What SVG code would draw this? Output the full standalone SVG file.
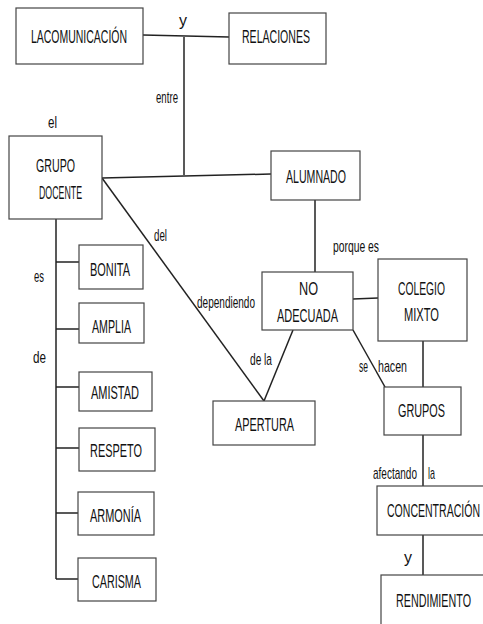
<svg xmlns="http://www.w3.org/2000/svg" width="483" height="624" viewBox="0 0 483 624">
<style>
rect{fill:#fff;stroke:#444;stroke-width:1.2}
text{font-family:"Liberation Sans",Arial,sans-serif;fill:#111}
.n{font-size:18px}
.l{font-size:17px}
#connectors line{stroke:#222;stroke-width:1.5}
</style>
<rect x="0" y="0" width="483" height="624" style="fill:#fff;stroke:none"/>
<g id="connectors">
<line x1="143" y1="35" x2="229" y2="37"/>
<line x1="184" y1="37" x2="184" y2="175"/>
<line x1="102" y1="178" x2="271" y2="174"/>
<line x1="102" y1="178" x2="264" y2="401"/>
<line x1="315" y1="200" x2="315" y2="272"/>
<line x1="56" y1="219" x2="56" y2="579"/>
<line x1="56" y1="262" x2="79" y2="262"/>
<line x1="56" y1="329" x2="79" y2="329"/>
<line x1="56" y1="387" x2="79" y2="387"/>
<line x1="56" y1="448" x2="79" y2="448"/>
<line x1="56" y1="513" x2="78" y2="513"/>
<line x1="56" y1="579" x2="78" y2="579"/>
<line x1="353" y1="299" x2="378" y2="298"/>
<line x1="293" y1="330" x2="264" y2="401"/>
<line x1="353" y1="330" x2="385" y2="387"/>
<line x1="423" y1="341" x2="423" y2="387"/>
<line x1="423" y1="435" x2="423" y2="486"/>
<line x1="423" y1="535" x2="423" y2="575"/>
<g class="labels">
<text class="l" x="179" y="26" textLength="8" lengthAdjust="spacingAndGlyphs">y</text>
<text class="l" x="156" y="103" textLength="22" lengthAdjust="spacingAndGlyphs">entre</text>
<text class="l" x="48" y="128" textLength="9" lengthAdjust="spacingAndGlyphs">el</text>
<text class="l" x="34" y="282" textLength="10" lengthAdjust="spacingAndGlyphs">es</text>
<text class="l" x="33" y="363" textLength="13" lengthAdjust="spacingAndGlyphs">de</text>
<text class="l" x="154" y="241" textLength="13" lengthAdjust="spacingAndGlyphs">del</text>
<text class="l" x="197" y="308" textLength="58" lengthAdjust="spacingAndGlyphs">dependiendo</text>
<text class="l" x="333" y="252" textLength="46" lengthAdjust="spacingAndGlyphs">porque es</text>
<text class="l" x="250" y="365" textLength="22" lengthAdjust="spacingAndGlyphs">de la</text>
<text class="l" x="359" y="372" textLength="9" lengthAdjust="spacingAndGlyphs">se</text>
<text class="l" x="378" y="372" textLength="29" lengthAdjust="spacingAndGlyphs">hacen</text>
<text class="l" x="373" y="479" textLength="44" lengthAdjust="spacingAndGlyphs">afectando</text>
<text class="l" x="428" y="479" textLength="7" lengthAdjust="spacingAndGlyphs">la</text>
<text class="l" x="404" y="563" textLength="8" lengthAdjust="spacingAndGlyphs">y</text>
</g>
</g>
<g id="n1"><rect x="16" y="8" width="127" height="56"/><text class="n" x="31" y="43" textLength="96" lengthAdjust="spacingAndGlyphs">LACOMUNICACIÓN</text></g>
<g id="n2"><rect x="229" y="13" width="97" height="51"/><text class="n" x="242" y="43" textLength="68" lengthAdjust="spacingAndGlyphs">RELACIONES</text></g>
<g id="n3"><rect x="9" y="136" width="93" height="83"/><text class="n" x="36" y="172" textLength="39" lengthAdjust="spacingAndGlyphs">GRUPO</text><text class="n" x="39" y="199" textLength="43" lengthAdjust="spacingAndGlyphs">DOCENTE</text></g>
<g id="n4"><rect x="271" y="151" width="89" height="49"/><text class="n" x="286" y="183" textLength="60" lengthAdjust="spacingAndGlyphs">ALUMNADO</text></g>
<g id="n5"><rect x="79" y="245" width="64" height="44"/><text class="n" x="90" y="276" textLength="40" lengthAdjust="spacingAndGlyphs">BONITA</text></g>
<g id="n6"><rect x="79" y="303" width="65" height="40"/><text class="n" x="92" y="333" textLength="39" lengthAdjust="spacingAndGlyphs">AMPLIA</text></g>
<g id="n7"><rect x="79" y="372" width="73" height="39"/><text class="n" x="91" y="399" textLength="48" lengthAdjust="spacingAndGlyphs">AMISTAD</text></g>
<g id="n8"><rect x="79" y="428" width="76" height="43"/><text class="n" x="90" y="457" textLength="52" lengthAdjust="spacingAndGlyphs">RESPETO</text></g>
<g id="n9"><rect x="78" y="492" width="76" height="43"/><text class="n" x="90" y="522" textLength="51" lengthAdjust="spacingAndGlyphs">ARMONÍA</text></g>
<g id="n10"><rect x="78" y="558" width="78" height="43"/><text class="n" x="92" y="588" textLength="49" lengthAdjust="spacingAndGlyphs">CARISMA</text></g>
<g id="n11"><rect x="262" y="272" width="91" height="58"/><text class="n" x="299" y="295" textLength="19" lengthAdjust="spacingAndGlyphs">NO</text><text class="n" x="277" y="322" textLength="61" lengthAdjust="spacingAndGlyphs">ADECUADA</text></g>
<g id="n12"><rect x="378" y="259" width="89" height="82"/><text class="n" x="398" y="295" textLength="47" lengthAdjust="spacingAndGlyphs">COLEGIO</text><text class="n" x="404" y="321" textLength="35" lengthAdjust="spacingAndGlyphs">MIXTO</text></g>
<g id="n13"><rect x="213" y="401" width="102" height="44"/><text class="n" x="235" y="431" textLength="59" lengthAdjust="spacingAndGlyphs">APERTURA</text></g>
<g id="n14"><rect x="384" y="387" width="77" height="48"/><text class="n" x="398" y="417" textLength="47" lengthAdjust="spacingAndGlyphs">GRUPOS</text></g>
<g id="n15"><rect x="377" y="486" width="112" height="49"/><text class="n" x="387" y="517" textLength="93" lengthAdjust="spacingAndGlyphs">CONCENTRACIÓN</text></g>
<g id="n16"><rect x="381" y="575" width="112" height="60"/><text class="n" x="396" y="607" textLength="75" lengthAdjust="spacingAndGlyphs">RENDIMIENTO</text></g>
</svg>
